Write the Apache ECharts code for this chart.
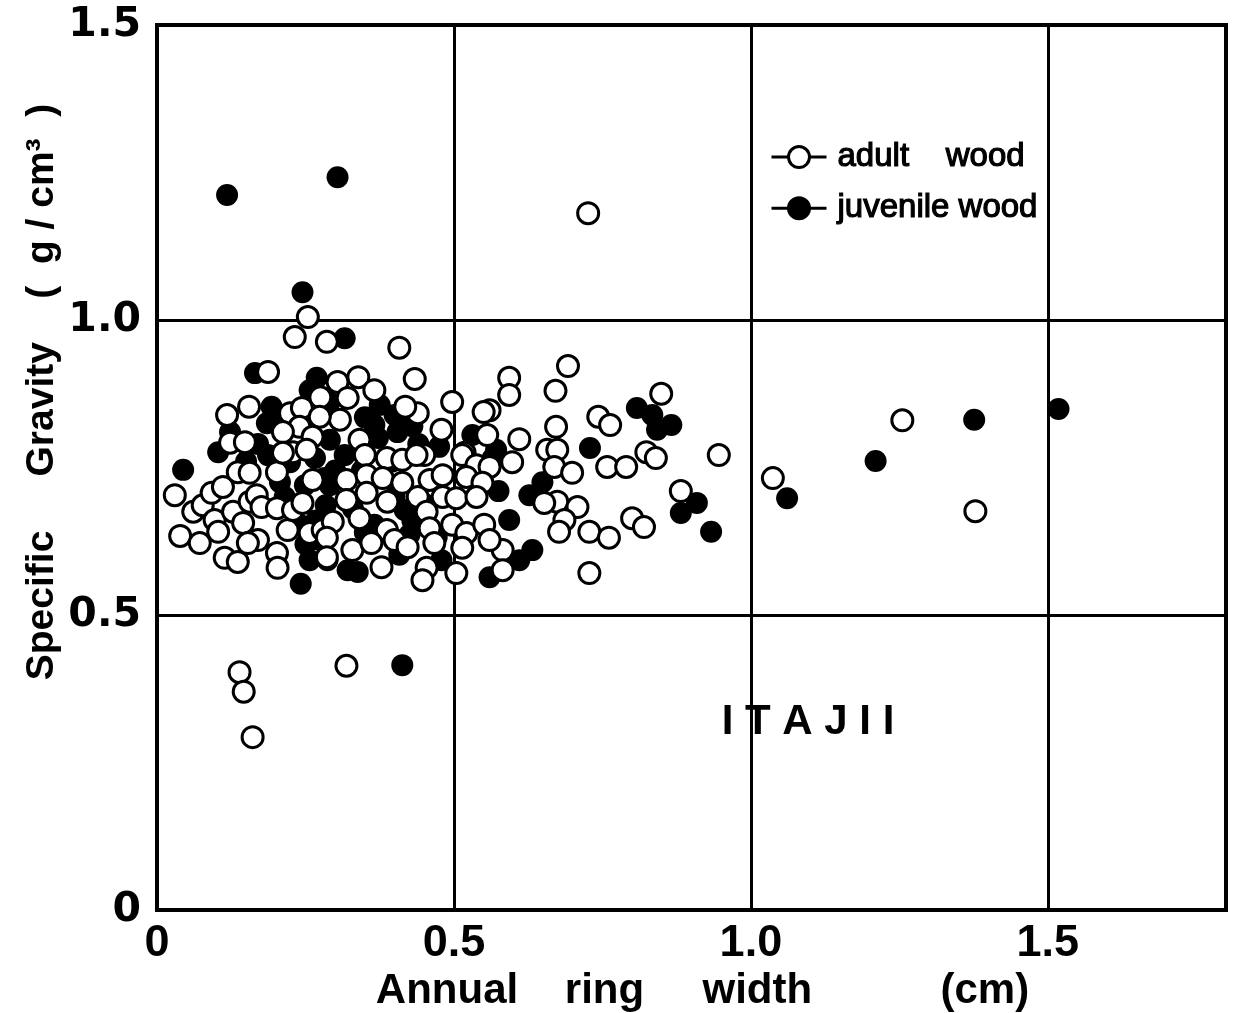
<!DOCTYPE html>
<html>
<head>
<meta charset="utf-8">
<script src="https://cdn.jsdelivr.net/npm/echarts@6/dist/echarts.min.js"></script>
<style>
html,body{margin:0;padding:0;background:#fff;overflow:hidden;}
#chart{width:1233px;height:1013px;}
</style>
</head>
<body>
<div id="chart"></div>
<script>
// ---- data ----
const xTicks = ['0', '0.5', '1.0', '1.5'];
const yTicks = ['0', '0.5', '1.0', '1.5'];
const seriesNames = ['adult    wood', 'juvenile wood'];
const xAxisName = 'Annual    ring     width           (cm)';
const yAxisName = 'Specific     Gravity    (  g / cm³  )';
const speciesName = 'I T A J I I';

// adult wood (open circles): [annual ring width cm, specific gravity]
const adultWood = [
  [0.726,1.181],[0.139,0.403],[0.146,0.370],[0.161,0.293],[0.319,0.414],
  [1.255,0.830],[1.378,0.676],[1.037,0.732],[0.946,0.771],[0.882,0.710],
  [0.692,0.922],[0.671,0.880],
  [0.593,0.902],[0.593,0.873],[0.849,0.875],[0.743,0.836],[0.763,0.822],
  [0.672,0.819],[0.610,0.798],[0.560,0.847],[0.657,0.780],[0.674,0.780],
  [0.824,0.776],[0.840,0.766],[0.758,0.751],[0.790,0.751],[0.669,0.751],
  [0.699,0.741],[0.598,0.759],[0.674,0.692],[0.708,0.683],[0.652,0.690],
  [0.686,0.661],[0.677,0.641],[0.800,0.664],[0.820,0.649],[0.728,0.641],
  [0.761,0.631],[0.728,0.571],[0.582,0.610],[0.582,0.576],
  [0.286,0.963],[0.408,0.953],[0.434,0.900],[0.497,0.861],[0.550,0.844],
  [0.339,0.903],[0.366,0.881],[0.304,0.895],[0.479,0.814],[0.439,0.842],
  [0.418,0.853],[0.321,0.868],[0.275,0.869],[0.556,0.805],[0.518,0.775],
  [0.308,0.831],[0.341,0.797],[0.350,0.771],[0.450,0.771],
  [0.254,1.005],[0.232,0.971],[0.187,0.912],[0.118,0.839],[0.155,0.853],
  [0.224,0.842],[0.244,0.851],[0.274,0.836],[0.123,0.792],[0.148,0.793],
  [0.240,0.819],[0.212,0.810],[0.262,0.802],[0.229,0.776],[0.252,0.780],
  [0.030,0.703],[0.039,0.634],[0.061,0.675],[0.072,0.622],[0.077,0.686],
  [0.092,0.707],[0.111,0.717],[0.097,0.661],[0.103,0.641],[0.114,0.597],
  [0.136,0.590],[0.128,0.675],[0.136,0.742],[0.145,0.656],[0.156,0.692],
  [0.168,0.703],[0.176,0.683],[0.170,0.627],[0.202,0.681],[0.202,0.605],
  [0.203,0.580],[0.153,0.622],[0.156,0.741],[0.220,0.644],[0.229,0.678],
  [0.245,0.690],[0.257,0.639],[0.279,0.644],[0.202,0.742],[0.212,0.775],
  [0.262,0.729],
  [0.387,0.766],[0.413,0.763],[0.437,0.771],[0.514,0.771],[0.538,0.754],
  [0.560,0.751],[0.319,0.729],[0.353,0.737],[0.380,0.732],[0.413,0.724],
  [0.459,0.729],[0.481,0.737],[0.521,0.734],[0.548,0.724],[0.319,0.695],
  [0.353,0.707],[0.388,0.692],[0.439,0.700],[0.481,0.700],[0.504,0.698],
  [0.538,0.700],[0.454,0.675],[0.296,0.658],[0.341,0.664],[0.387,0.644],
  [0.459,0.647],[0.497,0.653],[0.521,0.639],[0.551,0.653],[0.560,0.627],
  [0.286,0.631],[0.329,0.610],[0.361,0.622],[0.400,0.627],[0.422,0.615],
  [0.467,0.622],[0.514,0.614],[0.286,0.598],[0.378,0.581],[0.454,0.580],
  [0.504,0.571],[0.447,0.559]
];

// juvenile wood (filled circles)
const juvenileWood = [
  [0.118,1.212],[0.304,1.242],[0.245,1.047],[0.316,0.969],[0.165,0.910],
  [0.044,0.746],[0.413,0.415],[0.242,0.553],[0.729,0.783],[0.808,0.851],
  [0.834,0.839],[0.842,0.814],[0.866,0.822],[0.882,0.673],[0.909,0.690],
  [0.933,0.641],[1.061,0.698],[1.210,0.761],[1.376,0.831],[1.518,0.849],
  [0.649,0.725],[0.627,0.703],[0.632,0.610],[0.610,0.593],[0.593,0.661],
  [0.571,0.780],[0.565,0.765],[0.575,0.710],[0.560,0.564],
  [0.269,0.902],[0.193,0.853],[0.103,0.776],[0.123,0.810],[0.185,0.825],
  [0.257,0.881],
  [0.187,0.771],[0.224,0.759],[0.266,0.766],[0.207,0.725],[0.249,0.720],
  [0.282,0.732],[0.240,0.653],[0.274,0.627],[0.257,0.593],[0.287,0.593],
  [0.531,0.805],[0.375,0.856],[0.400,0.839],[0.366,0.822],[0.405,0.810],
  [0.291,0.797],[0.316,0.771],[0.475,0.785],[0.345,0.745],
  [0.321,0.576],[0.338,0.573],[0.479,0.593],[0.291,0.720],[0.417,0.678],
  [0.425,0.636],[0.408,0.602],[0.366,0.653],[0.284,0.686],[0.471,0.632],
  [0.200,0.840],[0.170,0.790],[0.290,0.860],[0.350,0.835],[0.372,0.800],
  [0.430,0.820],[0.440,0.790],[0.330,0.680],[0.350,0.640],[0.400,0.700],
  [0.430,0.660],[0.448,0.690],[0.268,0.660],[0.250,0.620],[0.215,0.700],
  [0.150,0.760],[0.395,0.760],[0.300,0.745]
];

const chart = echarts.init(document.getElementById('chart'));
const legendIcon = 'path://M0,11 L17,11 M38,11 L55,11 M38,11 A10.5,10.5 0 1 1 17,11 A10.5,10.5 0 1 1 38,11';
const labelFont = '"Liberation Sans",sans-serif';

chart.setOption({
  animation: false,
  backgroundColor: '#fff',
  grid: {left:157, top:25, width:1069, height:885, show:true, borderColor:'#000', borderWidth:4,
         backgroundColor:'transparent', containLabel:false, outerBoundsMode:'none'},
  xAxis: {
    type:'value', min:0, max:1.8, interval:0.5,
    axisLine:{show:true, lineStyle:{color:'#000', width:4}},
    axisTick:{show:false},
    splitLine:{show:true, lineStyle:{color:'#000', width:3}},
    axisLabel:{
      showMaxLabel:false, margin:11, color:'#000', fontSize:45, fontWeight:'bold', fontFamily:labelFont,
      formatter: v => { const i = Math.round(v/0.5); return (Math.abs(v - i*0.5) < 1e-6 && xTicks[i]) ? xTicks[i] : ''; }
    },
    name:xAxisName, nameLocation:'middle', nameGap:58,
    nameTextStyle:{color:'#000', fontSize:42, fontWeight:'bold', fontFamily:labelFont, padding:[0,0,0,22]}
  },
  yAxis: {
    type:'value', min:0, max:1.5, interval:0.5,
    axisLine:{show:true, lineStyle:{color:'#000', width:4}},
    axisTick:{show:false},
    splitLine:{show:true, lineStyle:{color:'#000', width:3}},
    axisLabel:{
      margin:16, color:'#000', fontSize:41, fontFamily:'"DejaVu Sans",sans-serif', fontWeight:'bold',
      formatter: v => { const i = Math.round(v/0.5); return yTicks[i] || ''; }
    }
  },
  legend: {
    orient:'vertical', left:765, top:135, itemWidth:55, itemHeight:22, itemGap:17,
    textStyle:{color:'#000', fontSize:33, fontFamily:labelFont, textBorderColor:'#000', textBorderWidth:1.2, padding:[0,0,0,6]},
    data:[
      {name:seriesNames[0], icon:legendIcon, itemStyle:{color:'#fff', borderColor:'#000', borderWidth:3, opacity:1}},
      {name:seriesNames[1], icon:legendIcon, itemStyle:{color:'#000', borderColor:'#000', borderWidth:3, opacity:1}}
    ],
    selectedMode:false
  },
  graphic: [
    {type:'text', x:42, y:392, rotation:Math.PI/2,
     style:{text:yAxisName, fill:'#000', font:'bold 39px "Liberation Sans",sans-serif', textAlign:'center', textVerticalAlign:'middle'}},
    {type:'text', x:808, y:722,
     style:{text:speciesName, fill:'#000', font:'bold 42px "Liberation Sans",sans-serif', textAlign:'center', textVerticalAlign:'middle'}}
  ],
  series: [
    {name:seriesNames[0], type:'scatter', data:adultWood, symbol:'circle', symbolSize:21, z:4,
     itemStyle:{color:'#fff', borderColor:'#000', borderWidth:3, opacity:1}, emphasis:{disabled:true}},
    {name:seriesNames[1], type:'scatter', data:juvenileWood, symbol:'circle', symbolSize:22, z:3,
     itemStyle:{color:'#000', opacity:1}, emphasis:{disabled:true}}
  ]
});
</script>
</body>
</html>
